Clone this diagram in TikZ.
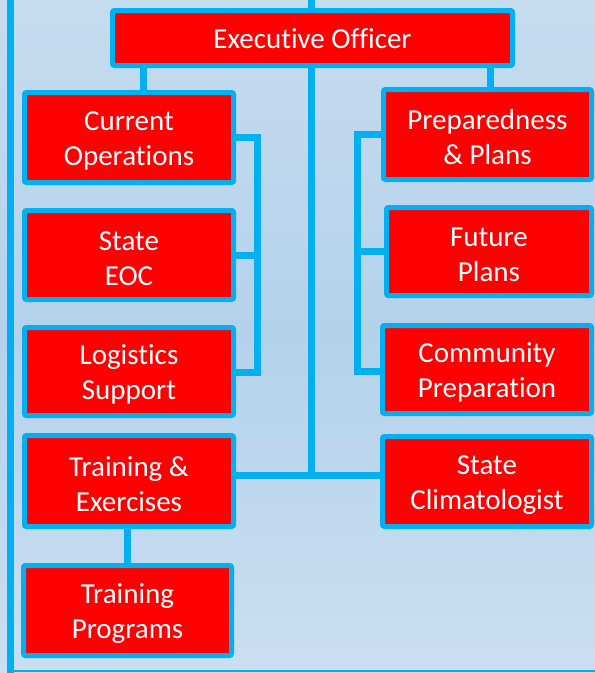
\documentclass[tikz,border=0pt]{standalone}
\usepackage{fontspec}
\setmainfont[Ligatures=NoCommon]{Carlito}
\definecolor{lineblue}{HTML}{00B0F0}
\definecolor{boxred}{HTML}{FF0000}
\definecolor{bgtop}{HTML}{C6DCEF}
\definecolor{bgmid}{HTML}{B4D2EB}
\definecolor{bgbot}{HTML}{CADFF1}
\newcommand\liftline{\rule{0pt}{26pt}}
\pgfdeclarelayer{back}
\pgfdeclarelayer{lines}
\pgfsetlayers{back,lines,main}
\tikzset{
  unit/.style={rectangle, draw=lineblue, line width=5pt, fill=boxred, rounded corners=2pt,
    text=white, align=center, font=\fontsize{29}{35}\selectfont, inner sep=0pt},
  conn/.style={draw=lineblue, line width=7pt, line join=miter},
}
\begin{document}
\begin{tikzpicture}[x=1pt,y=-1pt]
\useasboundingbox (0,0) rectangle (595,673);
\begin{pgfonlayer}{back}
  \shade[top color=bgtop, bottom color=bgbot, middle color=bgmid] (0,0) rectangle (595,673);
  \draw[lineblue, line width=7pt] (10,0) -- (10,673);
  \draw[lineblue, line width=2pt] (10,671) -- (595,671);
\end{pgfonlayer}

\node[unit, minimum width=400pt, minimum height=55pt] (exec) at (312.5,38) {\rule{0pt}{22pt}Executive Officer};
\node[unit, minimum width=209pt, minimum height=90pt] (cur) at (129,137.5) {\liftline Current\\Operations};
\node[unit, minimum width=209pt, minimum height=89pt] (eoc) at (129,255) {\liftline State\\EOC};
\node[unit, minimum width=209pt, minimum height=88pt] (log) at (129,371.5) {\liftline Logistics\\Support};
\node[unit, minimum width=209pt, minimum height=91pt] (te) at (129,481) {\liftline Training \&\\Exercises};
\node[unit, minimum width=208pt, minimum height=90pt] (tp) at (127.5,610.5) {\liftline Training\\Programs};
\node[unit, minimum width=208pt, minimum height=90pt] (prep) at (487.5,134.5) {\liftline Preparedness\\\& Plans};
\node[unit, minimum width=205pt, minimum height=88pt] (fut) at (489,251.5) {\liftline Future\\Plans};
\node[unit, minimum width=209pt, minimum height=88pt] (comm) at (487,369.5) {\liftline Community\\Preparation};
\node[unit, minimum width=209pt, minimum height=90pt] (clim) at (487,481.5) {\liftline State\\Climatologist};

\coordinate (top) at (311,0);
\coordinate (hb) at (311,475);
\coordinate (c1) at (143,0);
\coordinate (c2) at (490,0);
\coordinate (c3) at (127,0);
\coordinate (lb) at (257,372);
\coordinate (rb) at (357,371);

\begin{pgfonlayer}{lines}
  \draw[conn] (top) -- (exec.north -| top);
  \draw[conn] (exec.south -| top) -- (hb);
  \draw[conn] (te.east |- hb) -- (clim.west |- hb);
  \draw[conn] (exec.south -| c1) -- (cur.north -| c1);
  \draw[conn] (exec.south -| c2) -- (prep.north -| c2);
  \draw[conn] (cur.east) -| (lb) -- (log.east |- lb);
  \draw[conn] (eoc.east) -- (eoc.east -| lb);
  \draw[conn] (prep.west) -| (rb) -- (comm.west |- rb);
  \draw[conn] (fut.west) -- (fut.west -| rb);
  \draw[conn] (te.south -| c3) -- (tp.north -| c3);
\end{pgfonlayer}
\end{tikzpicture}
\end{document}
